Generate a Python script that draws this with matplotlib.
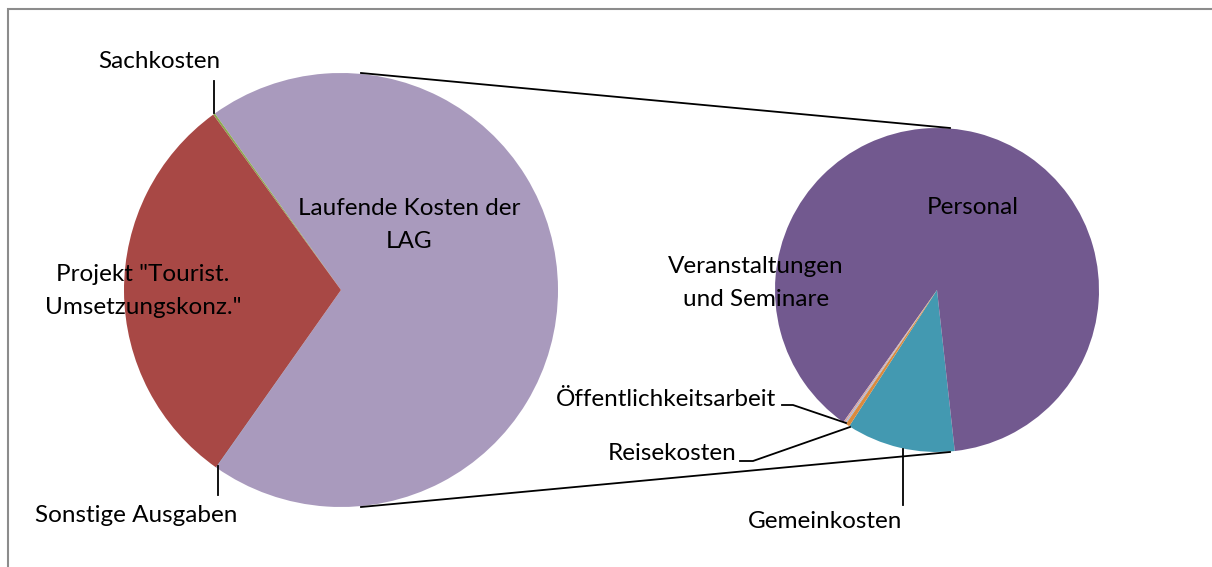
import matplotlib.pyplot as plt
from matplotlib.patches import Rectangle

# main pie (left)
main_labels = ["Laufende Kosten der\nLAG", "Sachkosten", 'Projekt "Tourist.\nUmsetzungskonz."', "Sonstige Ausgaben"]
main_values = [69.6, 0.15, 30.2, 0.02]
main_colors = ["#a99abd", "#8ba84e", "#a84845", "#4f81bd"]

# breakdown of "Laufende Kosten der LAG" (right)
sub_labels = ["Gemeinkosten", "Personal", "Veranstaltungen\nund Seminare", "Öffentlichkeitsarbeit", "Reisekosten"]
sub_values = [10.86, 88.44, 0.17, 0.14, 0.39]
sub_colors = ["#4399b1", "#72598f", "#d4a3a2", "#a9b8d6", "#da8a3e"]

W, H = 1212, 567
plt.rcParams["font.family"] = ["Lato", "DejaVu Sans"]

fig = plt.figure(figsize=(W / 100, H / 100), dpi=100)
ax = fig.add_axes([0, 0, 1, 1])


def Y(y):
    # picture rows -> axis y
    return H - y


ax.pie(main_values, colors=main_colors, startangle=-125.1, counterclock=True,
       center=(341, Y(290)), radius=217, wedgeprops=dict(linewidth=0))
ax.pie(sub_values, colors=sub_colors, startangle=-122.8, counterclock=True,
       center=(937, Y(290)), radius=162, wedgeprops=dict(linewidth=0))

ax.set_xlim(0, W)
ax.set_ylim(0, H)
ax.set_aspect("equal")
ax.axis("off")

# connector lines between the pies
ax.plot([361, 950], [Y(73), Y(128)], color="black", lw=1.3)
ax.plot([361, 950], [Y(507), Y(452)], color="black", lw=1.3)

fs = 17.5
ls = 1.65
# left pie labels
ax.text(159, Y(61), main_labels[1], ha="center", va="center", fontsize=fs)
ax.plot([214, 214], [Y(81), Y(113)], color="black", lw=1.3)
ax.text(136, Y(516), main_labels[3], ha="center", va="center", fontsize=fs)
ax.plot([218, 218], [Y(466), Y(495)], color="black", lw=1.3)
ax.text(143, Y(291), main_labels[2], ha="center", va="center", fontsize=fs, linespacing=ls)
ax.text(409, Y(225), main_labels[0], ha="center", va="center", fontsize=fs, linespacing=ls)

# right pie labels
ax.text(973, Y(208), sub_labels[1], ha="center", va="center", fontsize=fs)
ax.text(756, Y(283), sub_labels[2], ha="center", va="center", fontsize=fs, linespacing=ls)
ax.text(776, Y(400), sub_labels[3], ha="right", va="center", fontsize=fs)
ax.plot([782, 793, 846], [Y(405), Y(405), Y(423)], color="black", lw=1.3)
ax.text(737, Y(453), sub_labels[4], ha="right", va="center", fontsize=fs)
ax.plot([740, 753, 850], [Y(461), Y(461), Y(427)], color="black", lw=1.3)
ax.text(825, Y(522), sub_labels[0], ha="center", va="center", fontsize=fs)
ax.plot([903, 903], [Y(449), Y(505)], color="black", lw=1.3)

# chart area border
ax.add_patch(Rectangle((8, -20), W + 20, Y(9) + 20, fill=False,
                       edgecolor="#8c8c8c", lw=1.5, clip_on=False))

fig.savefig("out.png", dpi=100)
